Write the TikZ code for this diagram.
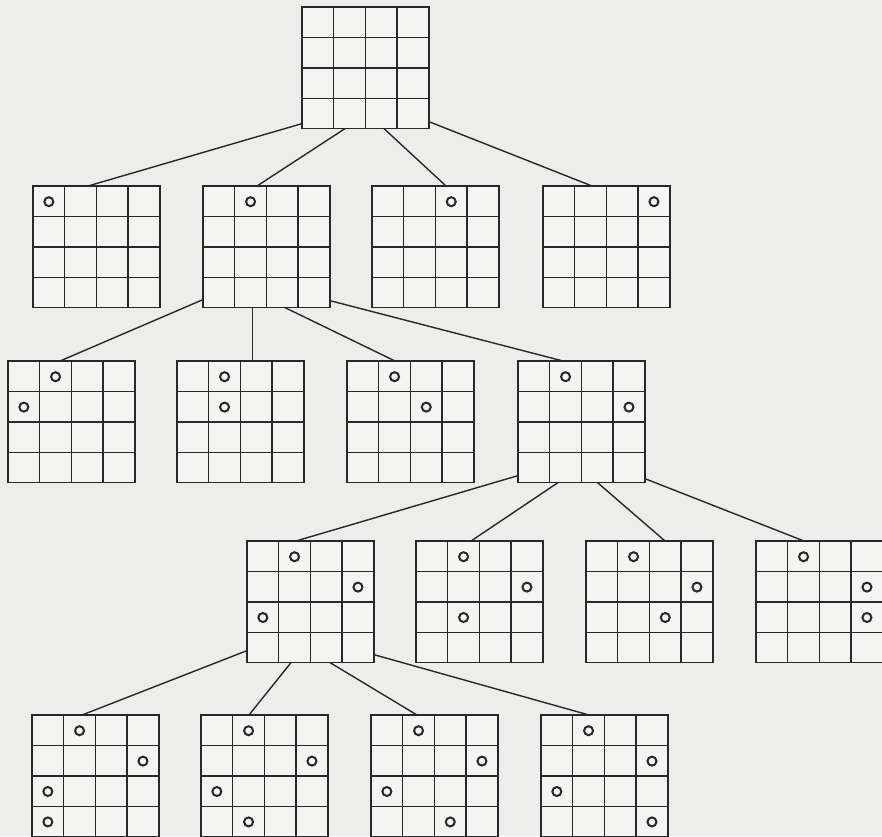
\documentclass[tikz,border=0pt]{standalone}
\usetikzlibrary{calc}
\definecolor{paper}{RGB}{237,237,235}
\definecolor{ink}{RGB}{40,40,40}
\tikzset{
  gridbox/.style={draw=ink, line width=1.5pt, minimum width=126.8pt, minimum height=121.6pt,
    anchor=north west, inner sep=0pt, outer sep=0pt, fill=paper!60!white},
  gridline/.style={draw=ink, line width=1.4pt},
  queen/.style={circle, draw=ink, line width=2pt, minimum size=9pt, inner sep=0pt},
  link/.style={draw=ink, line width=1.4pt}
}
\newcommand\gridlinesof[1]{%
  \foreach \i in {0.25,0.5,0.75} {
    \draw[gridline] ($(#1.north west)!\i!(#1.north east)$) -- ($(#1.south west)!\i!(#1.south east)$);
    \draw[gridline] ($(#1.north west)!\i!(#1.south west)$) -- ($(#1.north east)!\i!(#1.south east)$);
  }}
\newcommand\emptyboard[3]{%
  \node[gridbox] (#1) at (#2,#3) {};
  \gridlinesof{#1}}
\newcommand\queenboard[4]{%
  \node[gridbox] (#1) at (#2,#3) {};
  \gridlinesof{#1}
  \foreach \r/\c [count=\k] in {#4} {
    \node[queen] (#1-q\k) at ($(#1.north west)+({(\c-0.5)*31.7},{(\r-0.5)*30.4+0.5})$) {};
  }}
\begin{document}
\begin{tikzpicture}[x=1pt,y=-1pt]
\fill[paper] (0,0) rectangle (882,836);
\useasboundingbox (0,0) rectangle (882,836);
% root
\emptyboard{root}{302}{7}
% level 1
\queenboard{ga}{33}{186}{1/1}
\queenboard{gb}{203}{186}{1/2}
\queenboard{gc}{372}{186}{1/3}
\queenboard{gd}{543}{186}{1/4}
% level 2
\queenboard{A}{8}{361}{1/2,2/1}
\queenboard{B}{177}{361}{1/2,2/2}
\queenboard{C}{347}{361}{1/2,2/3}
\queenboard{D}{518}{361}{1/2,2/4}
% level 3
\queenboard{E}{247}{541}{1/2,2/4,3/1}
\queenboard{F}{416}{541}{1/2,2/4,3/2}
\queenboard{G}{586}{541}{1/2,2/4,3/3}
\queenboard{H}{756}{541}{1/2,2/4,3/4}
% level 4
\queenboard{I}{32}{715}{1/2,2/4,3/1,4/1}
\queenboard{J}{201}{715}{1/2,2/4,3/1,4/2}
\queenboard{K}{371}{715}{1/2,2/4,3/1,4/3}
\queenboard{L}{541}{715}{1/2,2/4,3/1,4/4}
% connectors
\draw[link] ($(root.south west)+(0,-5)$) -- ($(ga.north west)+(55,0)$);
\draw[link] ($(root.south west)+(43,0)$) -- ($(gb.north west)+(54,0)$);
\draw[link] ($(root.south west)+(82,0)$) -- ($(gc.north west)+(74,0)$);
\draw[link] ($(root.south east)+(0,-7)$) -- ($(gd.north west)+(49,0)$);

\draw[link] ($(gb.south west)+(0,-8)$) -- ($(A.north west)+(52,0)$);
\draw[link] ($(gb.south west)+(49.5,0)$) -- ($(B.north west)+(75.5,0)$);
\draw[link] ($(gb.south west)+(82,0)$) -- ($(C.north west)+(48,0)$);
\draw[link] ($(gb.south east)+(0,-7)$) -- ($(D.north west)+(45,0)$);

\draw[link] ($(D.south west)+(0,-7)$) -- ($(E.north west)+(49,0)$);
\draw[link] ($(D.south west)+(40,0)$) -- ($(F.north west)+(55,0)$);
\draw[link] ($(D.south west)+(79.5,0)$) -- ($(G.north west)+(79,0)$);
\draw[link] ($(D.south east)+(0,-4)$) -- ($(H.north west)+(48,0)$);

\draw[link] ($(E.south west)+(0,-12)$) -- ($(I.north west)+(50,0)$);
\draw[link] ($(E.south west)+(44,0)$) -- ($(J.north west)+(48,0)$);
\draw[link] ($(E.south west)+(83,0)$) -- ($(K.north west)+(46,0)$);
\draw[link] ($(E.south east)+(0,-8)$) -- ($(L.north west)+(48,0)$);
\end{tikzpicture}
\end{document}
